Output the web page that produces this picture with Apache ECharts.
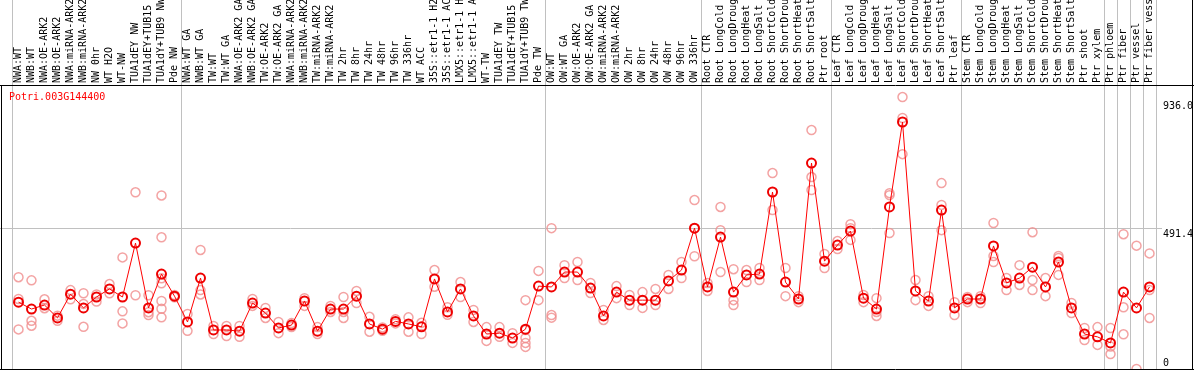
<!DOCTYPE html>
<html><head><meta charset="utf-8">
<script src="https://cdn.jsdelivr.net/npm/echarts@6/dist/echarts.min.js"></script>
<style>html,body{margin:0;padding:0;background:#fff;overflow:hidden}#c{width:1194px;height:370px}</style>
</head><body><div id="c"></div>
<script>
const geneId = 'Potri.003G144400';
const categories = [
 'NWA:WT','NWB:WT','NWA:OE-ARK2','NWB:OE-ARK2','NWA:miRNA-ARK2','NWB:miRNA-ARK2','NW 0hr','WT H2O','WT-NW','TUA1dEY NW','TUA1dEY+TUB15 NW','TUA1dY+TUB9 NW','Pde NW',
 'NWA:WT GA','NWB:WT GA','TW:WT','TW:WT GA','NWA:OE-ARK2 GA','NWB:OE-ARK2 GA','TW:OE-ARK2','TW:OE-ARK2 GA','NWA:miRNA-ARK2 GA','NWB:miRNA-ARK2 GA','TW:miRNA-ARK2','TW:miRNA-ARK2 GA','TW 2hr','TW 8hr','TW 24hr','TW 48hr','TW 96hr','TW 336hr','WT ACC','35S::etr1-1 H2O','35S::etr1-1 ACC','LMX5::etr1-1 H2O','LMX5::etr1-1 ACC','WT-TW','TUA1dEY TW','TUA1dEY+TUB15 TW','TUA1dY+TUB9 TW','Pde TW',
 'OW:WT','OW:WT GA','OW:OE-ARK2','OW:OE-ARK2 GA','OW:miRNA-ARK2','OW:miRNA-ARK2 GA','OW 2hr','OW 8hr','OW 24hr','OW 48hr','OW 96hr','OW 336hr',
 'Root CTR','Root LongCold','Root LongDrought','Root LongHeat','Root LongSalt','Root ShortCold','Root ShortDrought','Root ShortHeat','Root ShortSalt','Ptr root',
 'Leaf CTR','Leaf LongCold','Leaf LongDrought','Leaf LongHeat','Leaf LongSalt','Leaf ShortCold','Leaf ShortDrought','Leaf ShortHeat','Leaf ShortSalt','Ptr leaf',
 'Stem CTR','Stem LongCold','Stem LongDrought','Stem LongHeat','Stem LongSalt','Stem ShortCold','Stem ShortDrought','Stem ShortHeat','Stem ShortSalt','Ptr shoot','Ptr xylem',
 'Ptr phloem','Ptr fiber','Ptr vessel','Ptr fiber vessel'
];
const means = [
 233,209,223,178,261,213,251,279,251,439,213,331,254,
 164,317,136,136,132,230,195,143,153,237,132,209,209,254,157,139,166,157,147,314,199,279,185,122,125,108,139,289,
 286,338,338,282,185,268,240,240,240,307,345,491,
 286,460,268,328,331,617,303,244,718,376,
 432,481,247,209,565,861,272,237,554,213,
 244,244,429,300,317,355,286,373,213,122,112,
 91,268,213,286
];
const replicates = [
 [320,244,138],[309,168,151],[243,212],[186,168],[275,243],[264,227,147],[260,235],[296,264],[389,201,159],[616,257],[257,198,188],[605,459,316,299,237,210,180],[250,258],
 [192,133],[415,275,260],[150,122],[150,115],[150,112],[244,220],[213,178],[125,164],[146,160],[247,220],[146,122],[220,199],[251,178,199],[272,230],[182,130],[145,133],[173,159],[180,130],[161,122],[345,287],[215,189],[303,251],[206,164],[146,98],[146,112],[125,91],[240,136,108,91,77],[342,240],
 [491,188,179],[362,317],[373,310],[300,265],[206,171],[289,247],[258,223],[268,213],[279,223],[328,279],[373,317],[589,491,393],
 [300,272],[565,484,338],[348,240,223],[345,303],[352,310],[683,554],[352,254],[254,233],[833,669,624],[401,352],
 [446,418],[505,491,450],[258,233],[247,199,185],[613,474,606],[948,749,875],[310,240],[254,220],[648,572,484],[233,188],
 [251,233],[254,230],[509,394,373],[317,275],[362,293],[477,310,275],[317,254],[328,394,387],[230,195],[143,101],[146,84],
 [78,143,52],[470,215,121],[430,0],[403,275,178]
];
const yLabels = [936.0, 491.4, 0];
const groupBreaks = [0,13,41,53,63,73,84,85,86,87,88];

const repData = [];
replicates.forEach((arr,i)=>arr.forEach(v=>repData.push([i,v])));

const chart = echarts.init(document.getElementById('c'));
const mono = 'DejaVu Sans Mono';
chart.setOption({
  animation:false,
  title:{text:geneId,left:9,top:92,padding:0,textStyle:{color:'#ff0000',fontFamily:mono,fontSize:10,fontWeight:'normal'}},
  grid:{left:12,right:38,top:85,bottom:1,containLabel:false,outerBoundsMode:'none'},
  xAxis:{type:'category',data:categories,position:'top',boundaryGap:true,
    axisLine:{show:false},axisTick:{show:false},splitLine:{show:false},
    axisLabel:{interval:0,rotate:90,margin:2,align:'left',verticalAlign:'middle',fontFamily:mono,fontSize:10,color:'#000'}},
  yAxis:{type:'value',min:0,max:990,show:false},
  series:[
    {type:'scatter',data:repData,symbol:'circle',symbolSize:9,z:2,
     itemStyle:{color:'rgba(0,0,0,0)',borderColor:'#f08c8c',borderWidth:1.5}},
    {type:'line',data:means,symbol:'circle',symbolSize:9,showAllSymbol:true,z:3,
     lineStyle:{color:'#ff0000',width:1},
     itemStyle:{color:'rgba(0,0,0,0)',borderColor:'#ee0000',borderWidth:2}}
  ]
});

const c0 = chart.convertToPixel({xAxisIndex:0},0);
const c1 = chart.convertToPixel({xAxisIndex:0},1);
const step = c1-c0;
const bx = k => Math.round(c0 - step/2 + k*step) + 0.5;
const py = v => chart.convertToPixel({yAxisIndex:0},v);
const g = [];
groupBreaks.forEach(k=>g.push({type:'line',shape:{x1:bx(k),y1:0,x2:bx(k),y2:370},style:{stroke:'#c0c0c0',lineWidth:1},z:0}));
const yMid = Math.round(py(491.4))+0.5;
g.push({type:'line',shape:{x1:0,y1:yMid,x2:1162,y2:yMid},style:{stroke:'#c0c0c0',lineWidth:1},z:0});
g.push({type:'line',shape:{x1:0,y1:85.5,x2:1194,y2:85.5},style:{stroke:'#000',lineWidth:1},z:10});
g.push({type:'line',shape:{x1:0,y1:369.5,x2:1194,y2:369.5},style:{stroke:'#000',lineWidth:1},z:10});
g.push({type:'line',shape:{x1:1.5,y1:85,x2:1.5,y2:370},style:{stroke:'#000',lineWidth:1},z:10});
g.push({type:'line',shape:{x1:1192.5,y1:0,x2:1192.5,y2:370},style:{stroke:'#000',lineWidth:1},z:10});
yLabels.forEach(v=>{
  let y = Math.round(py(v))+1;
  if (y > 358) y = 358;
  g.push({type:'text',x:1163,y:y,style:{text:v.toFixed(v===0?0:1),fill:'#000',font:'10px '+mono,textVerticalAlign:'top'},z:10});
});
chart.setOption({graphic:g});
</script></body></html>
